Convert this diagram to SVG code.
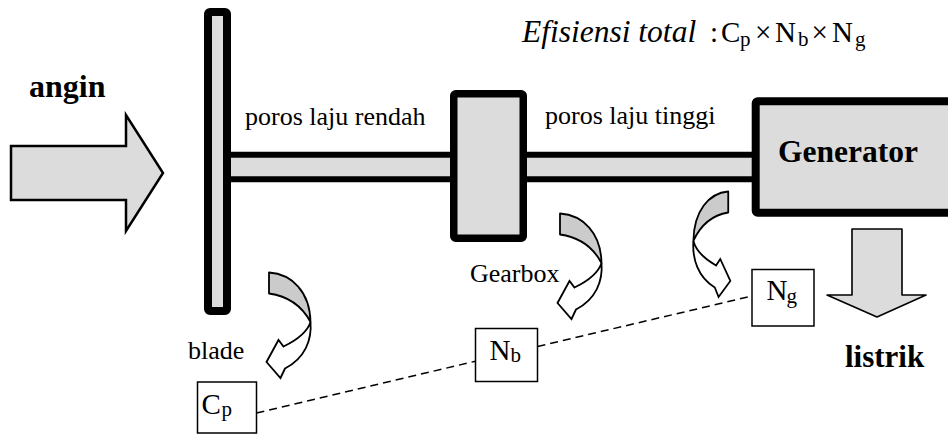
<svg xmlns="http://www.w3.org/2000/svg" xmlns:xlink="http://www.w3.org/1999/xlink" width="948" height="435" viewBox="0 0 948 435">
<style>
  text { font-family: 'Liberation Serif', 'Times New Roman', 'DejaVu Serif', serif; fill: #000; }
  .lbl { font-size: 26px; }
  .bold { font-size: 31px; font-weight: bold; }
  .sym { font-size: 29px; }
  .sub { font-size: 21px; }
  .part { fill: #dcdcdc; stroke: #000; stroke-linejoin: round; }
  .thin { fill: #dcdcdc; stroke: #000; stroke-width: 2.5; stroke-linejoin: miter; }
  .box { fill: #fff; stroke: #000; stroke-width: 1.5; }
  .back { fill: #cbcbcb; stroke: #000; stroke-width: 1.8; stroke-linejoin: round; vector-effect: non-scaling-stroke; }
  .front { fill: #fff; stroke: #000; stroke-width: 1.8; stroke-linejoin: miter; vector-effect: non-scaling-stroke; }
  .dash { stroke: #000; stroke-width: 1.5; stroke-dasharray: 8 5; fill: none; }
</style>
<defs>
  <g id="curvArrow">
    <path class="back" d="M269,272.5 C292,274 310,292 310.5,322 C302,306 287,296 269,293.5 Z"/>
    <path class="front" d="M310.5,322 C312,340 305,358 285,368.5 L280.5,378 L266.5,362 L278.5,340 L283.5,346.5 C297,340 307,333 310.5,322 Z"/>
  </g>
</defs>

<g id="title">
  <text x="522" y="41.5" style="font-size:31.5px; font-style:italic">Efisiensi total</text>
  <text style="font-size:29px"><tspan x="710" y="41.5">:</tspan><tspan x="721" y="41.5">C</tspan><tspan x="740" y="45.5" class="sub">p</tspan><tspan x="755" y="41.5">×</tspan><tspan x="775" y="41.5">N</tspan><tspan x="798" y="45.5" class="sub">b</tspan><tspan x="811.5" y="41.5">×</tspan><tspan x="832" y="41.5">N</tspan><tspan x="855" y="45.5" class="sub">g</tspan></text>
</g>

<g id="wind">
  <polygon class="thin" points="11,146 126,146 126,115 163,173 126,231 126,200 11,200"/>
  <text class="bold" x="29" y="97" style="font-size:32px">angin</text>
</g>

<g id="shaft-low">
  <rect class="part" x="225" y="154.75" width="232" height="24.5" stroke-width="6"/>
  <text class="lbl" x="245" y="125">poros laju rendah</text>
</g>

<g id="shaft-high">
  <rect class="part" x="520" y="154.75" width="240" height="24.5" stroke-width="6"/>
  <text class="lbl" x="545" y="124">poros laju tinggi</text>
</g>

<g id="blade">
  <rect class="part" x="208" y="12" width="19" height="299" rx="2" stroke-width="8"/>
  <text class="lbl" x="188" y="359">blade</text>
</g>

<g id="gearbox">
  <rect class="part" x="453.75" y="93.75" width="69.5" height="144.5" rx="2" stroke-width="7.5"/>
  <text class="lbl" x="470" y="282">Gearbox</text>
</g>

<g id="generator">
  <rect class="part" x="755.7" y="101.3" width="220" height="111.4" rx="2" stroke-width="8"/>
  <text class="bold" x="778" y="162" style="font-size:31.5px">Generator</text>
</g>

<g id="output">
  <polygon class="part" stroke-width="1.6" stroke-linejoin="miter" points="852,229 902,229 902,295 926,295 877,317 827,295 852,295"/>
  <text class="bold" x="845" y="367">listrik</text>
</g>

<g id="rotation-arrows">
  <use xlink:href="#curvArrow"/>
  <use xlink:href="#curvArrow" transform="translate(291,-59)"/>
  <use xlink:href="#curvArrow" transform="matrix(-0.84,0,0,1,954.2,-81)"/>
</g>

<g id="connectors">
  <line class="dash" x1="256.5" y1="413" x2="475.5" y2="361.2"/>
  <line class="dash" x1="537.5" y1="346.5" x2="752" y2="296"/>
</g>

<g id="Cp">
  <rect class="box" x="197.5" y="382" width="59" height="51"/>
  <text class="sym" x="201.5" y="413.5">C<tspan class="sub" x="221.5" y="416">p</tspan></text>
</g>

<g id="Nb">
  <rect class="box" x="475.5" y="328.5" width="62" height="53"/>
  <text class="sym" x="489.5" y="360">N<tspan class="sub" x="510.5" y="362">b</tspan></text>
</g>

<g id="Ng">
  <rect class="box" x="752" y="269.5" width="62" height="56.5"/>
  <text class="sym" x="766.5" y="300">N<tspan class="sub" x="786.5" y="303">g</tspan></text>
</g>
</svg>
